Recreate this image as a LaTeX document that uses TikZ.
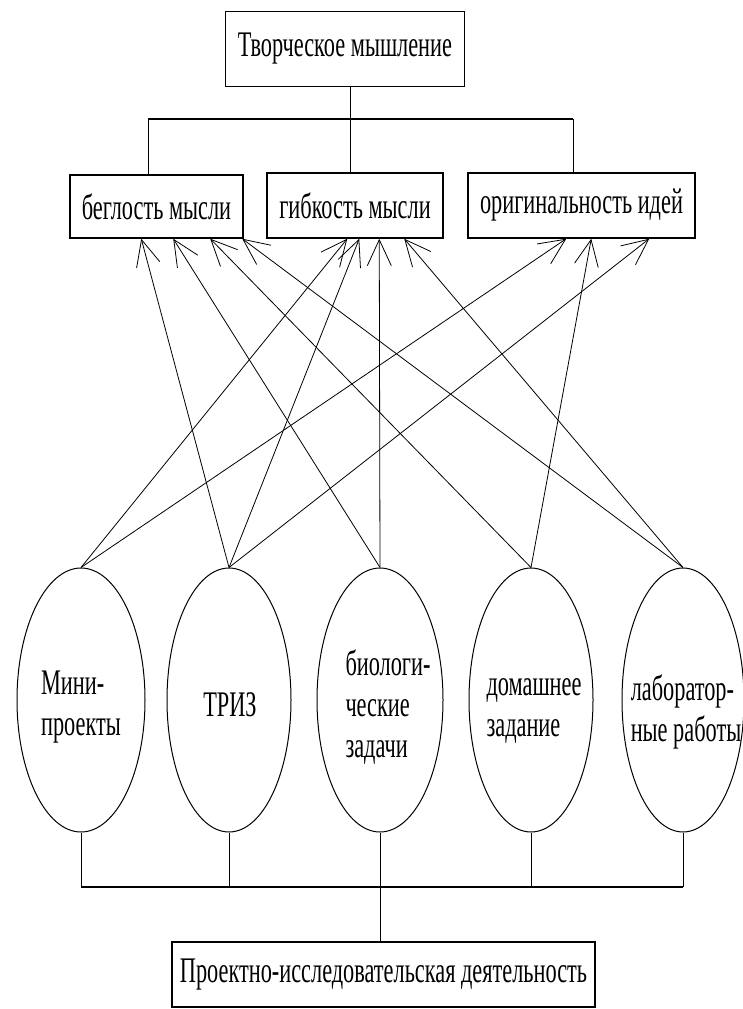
\documentclass[tikz,border=0pt]{standalone}
\usepackage{fontspec}
\setmainfont{Liberation Serif}[FakeStretch=0.62]
\usetikzlibrary{arrows.meta, shapes.geometric}

\begin{document}
\begin{tikzpicture}[x=1pt, y=-1pt, line width=1pt,
  font=\fontsize{36}{41}\selectfont,
  box/.style={draw, line width=1.5pt, inner sep=0pt},
  oval/.style={draw, ellipse, inner sep=0pt, minimum height=264pt},
  txt/.style={align=left, inner sep=0pt},
  bus/.style={line width=1.5pt},
  link/.style={line width=0.8pt, -{Straight Barb[length=26pt,width=24pt]}}]
  \useasboundingbox (0,0) rectangle (743,1009);

  % Top level
  \node[box, minimum width=239pt, minimum height=75pt] (think) at (345,49) {Творческое мышление};

  % Qualities
  \node[box, minimum width=173pt, minimum height=63pt] (flu)  at (156.5,206.5) {беглость мысли};
  \node[box, minimum width=176pt, minimum height=65pt] (flex) at (355,205.5)   {гибкость мысли};
  \node[box, minimum width=227pt, minimum height=65pt] (orig) at (581.5,205.5) {оригинальность идей};

  % Tree from the top box
  \coordinate (ul) at (148,119);
  \coordinate (up) at (350,119);
  \coordinate (ur) at (573,119);
  \draw (think.south -| up) -- (up);
  \draw[bus] (ul) -- (ur);
  \draw (ul) -- (ul |- flu.north);
  \draw (up) -- (up |- flex.north);
  \draw (ur) -- (ur |- orig.north);

  % Forms of work
  \node[oval, minimum width=128pt] (mini) at (81,700)  {};
  \node[oval, minimum width=124pt] (triz) at (229,700) {};
  \node[oval, minimum width=126pt] (bio)  at (380,700) {};
  \node[oval, minimum width=124pt] (home) at (531,700) {};
  \node[oval, minimum width=122pt] (lab)  at (683,700) {};

  \node[txt] (mini-t) at (81,707)  {Мини-\\проекты};
  \node[txt] (triz-t) at (230,705) {ТРИЗ};
  \node[txt] (bio-t)  at (388,707) {биологи-\\ческие\\задачи};
  \node[txt] (home-t) at (534,711) {домашнее\\задание};
  \node[txt] (lab-t)  at (686,712) {лаборатор-\\ные работы};

  % Arrows up to the qualities (x offset from the left edge of the box)
  \foreach \from/\to/\dx in {mini/flex/81, mini/orig/99,
                             triz/flu/72, triz/flex/93, triz/orig/182,
                             bio/flu/104, bio/flex/113,
                             home/flu/141, home/orig/124,
                             lab/flu/173, lab/flex/138}
    \draw[link] (\from.north) -- ([xshift=\dx pt]\to.south west);

  % Bottom box
  \node[box, minimum width=423pt, minimum height=65pt] (proj) at (383.5,974.5) {Проектно-исследовательская деятельность};

  \coordinate (down) at (380,887);
  \foreach \e in {mini,triz,bio,home,lab}
    \draw (\e.south) -- (\e.south |- down);
  \draw[bus] (mini.south |- down) -- (lab.south |- down);
  \draw (down) -- (down |- proj.north);
\end{tikzpicture}
\end{document}
